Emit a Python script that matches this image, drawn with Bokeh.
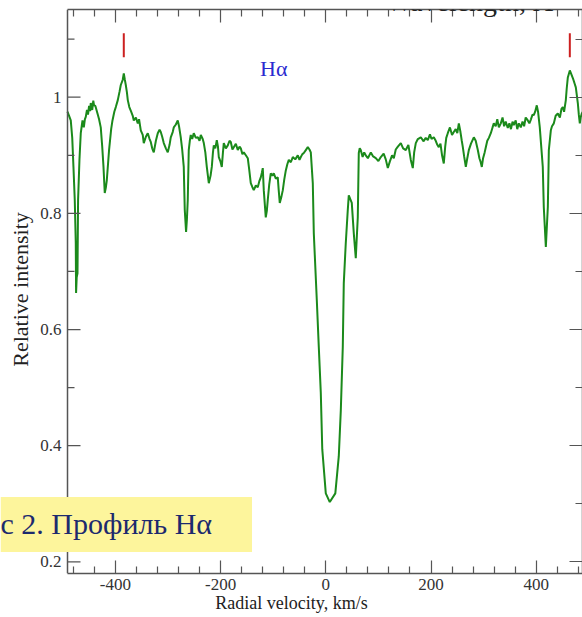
import math
from bokeh.plotting import figure
from bokeh.models import (LinearAxis, Label, Range1d, SingleIntervalTicker,
                          FixedTicker, CustomJSTickFormatter, Span)
from bokeh.core.properties import value
from bokeh.embed import file_html
from bokeh.resources import INLINE

# H-alpha profile: radial velocity (km/s) and relative intensity
velocity = [
    -491.1, -488.0, -484.8, -482.0, -479.7, -477.2, -475.3, -474.7, -473.5, -472.0,
    -470.9, -468.3, -465.8, -464.0, -462.5, -460.0, -458.0, -456.3, -454.0, -452.0,
    -450.0, -448.0, -446.8, -444.0, -442.0, -440.5, -438.0, -434.0, -431.0, -427.8,
    -425.0, -422.6, -420.2, -418.0, -416.3, -412.0, -408.0, -405.5, -402.0, -399.2,
    -395.4, -392.0, -389.7, -386.0, -384.0, -382.0, -380.2, -378.0, -376.4, -373.5,
    -370.0, -367.0, -365.0, -361.0, -357.4, -355.0, -351.7, -348.0, -346.0, -342.0,
    -338.4, -335.0, -332.7, -330.0, -327.0, -323.0, -319.4, -316.0, -313.7, -311.0,
    -308.0, -304.0, -300.4, -297.0, -294.7, -291.0, -289.0, -285.0, -281.4, -279.0,
    -275.7, -273.0, -270.0, -268.1, -265.6, -264.0, -262.4, -260.5, -258.5, -256.7,
    -254.0, -251.0, -247.0, -243.3, -240.0, -237.6, -234.0, -231.9, -229.0, -226.2,
    -222.4, -219.0, -216.7, -214.5, -212.9, -210.0, -207.2, -205.0, -203.4, -200.5,
    -197.7, -195.5, -193.9, -190.0, -186.3, -183.0, -180.6, -177.5, -174.9, -171.0,
    -167.3, -164.0, -161.6, -158.5, -155.9, -152.0, -148.3, -145.5, -142.6, -139.5,
    -136.9, -133.0, -129.3, -126.5, -123.6, -121.5, -119.8, -117.9, -114.1, -112.0,
    -110.3, -107.5, -104.6, -101.5, -98.9, -95.0, -91.3, -89.5, -87.5, -84.5,
    -81.7, -79.0, -76.0, -73.0, -70.3, -66.5, -62.7, -58.0, -53.2, -50.0,
    -47.5, -44.5, -41.8, -38.0, -34.2, -31.0, -28.5, -24.7, -22.8, -17.1,
    -13.3, -9.5, -6.7, 0.0, 7.6, 18.1, 24.7, 28.5, 32.3, 34.2,
    38.0, 41.8, 43.7, 49.4, 53.2, 57.0, 60.8, 62.7, 64.5, 66.5,
    70.0, 73.0, 76.0, 80.0, 85.6, 90.0, 95.1, 100.0, 104.6, 110.0,
    114.0, 117.9, 122.0, 126.0, 129.3, 133.0, 137.0, 142.6, 147.0, 152.1,
    157.0, 161.6, 165.4, 168.0, 171.1, 175.0, 180.6, 186.0, 190.0, 193.9,
    198.0, 201.0, 205.3, 209.0, 212.0, 214.8, 218.0, 221.0, 224.3, 227.0,
    229.0, 231.9, 236.0, 240.0, 243.3, 247.0, 250.0, 252.9, 256.0, 258.5,
    260.5, 263.0, 266.2, 269.0, 271.9, 276.0, 281.4, 285.0, 289.0, 292.0,
    294.5, 296.6, 299.0, 302.0, 304.2, 307.0, 310.0, 313.7, 317.0, 319.4,
    323.0, 326.0, 329.0, 332.7, 336.0, 339.0, 342.0, 346.0, 349.0, 352.0,
    355.0, 357.4, 361.0, 364.0, 367.0, 370.7, 374.0, 377.0, 380.0, 384.0,
    387.0, 390.0, 393.0, 395.4, 398.0, 401.1, 403.5, 406.8, 412.5, 414.4,
    418.3, 422.1, 424.0, 427.8, 430.0, 433.5, 437.0, 441.1, 445.0, 448.0,
    450.6, 453.0, 456.3, 458.0, 460.1, 463.9, 466.5, 469.6, 472.5, 475.3,
    477.0, 479.1, 481.0, 482.9, 484.5, 486.7, 490.5,
]
intensity = [
    0.975, 0.968, 0.960, 0.930, 0.880, 0.823, 0.749, 0.663, 0.690, 0.697,
    0.823, 0.892, 0.938, 0.950, 0.960, 0.948, 0.962, 0.966, 0.978, 0.970,
    0.985, 0.976, 0.990, 0.978, 0.994, 0.986, 0.985, 0.972, 0.962, 0.948,
    0.915, 0.880, 0.835, 0.845, 0.857, 0.909, 0.945, 0.960, 0.975, 0.983,
    0.995, 1.010, 1.021, 1.030, 1.041, 1.030, 1.021, 1.008, 0.995, 0.983,
    0.975, 0.968, 0.960, 0.965, 0.955, 0.962, 0.943, 0.935, 0.921, 0.932,
    0.938, 0.928, 0.923, 0.912, 0.905, 0.925, 0.938, 0.944, 0.940, 0.932,
    0.921, 0.912, 0.905, 0.918, 0.931, 0.940, 0.948, 0.953, 0.960, 0.950,
    0.931, 0.910, 0.880, 0.806, 0.768, 0.790, 0.823, 0.909, 0.925, 0.935,
    0.928, 0.938, 0.930, 0.931, 0.925, 0.935, 0.928, 0.921, 0.905, 0.880,
    0.852, 0.865, 0.880, 0.905, 0.917, 0.912, 0.926, 0.915, 0.897, 0.890,
    0.880, 0.905, 0.921, 0.912, 0.917, 0.925, 0.923, 0.910, 0.914, 0.920,
    0.909, 0.915, 0.912, 0.902, 0.905, 0.900, 0.895, 0.875, 0.852, 0.845,
    0.840, 0.848, 0.845, 0.855, 0.862, 0.870, 0.878, 0.840, 0.793, 0.805,
    0.823, 0.850, 0.869, 0.865, 0.869, 0.860, 0.862, 0.840, 0.818, 0.828,
    0.840, 0.858, 0.874, 0.885, 0.892, 0.888, 0.897, 0.893, 0.900, 0.892,
    0.897, 0.902, 0.904, 0.909, 0.914, 0.910, 0.905, 0.852, 0.766, 0.651,
    0.570, 0.491, 0.394, 0.318, 0.303, 0.318, 0.382, 0.460, 0.570, 0.680,
    0.749, 0.806, 0.831, 0.818, 0.766, 0.723, 0.793, 0.904, 0.912, 0.909,
    0.897, 0.905, 0.900, 0.895, 0.905, 0.898, 0.895, 0.890, 0.897, 0.903,
    0.893, 0.878, 0.890, 0.900, 0.895, 0.910, 0.915, 0.921, 0.912, 0.909,
    0.918, 0.892, 0.878, 0.905, 0.921, 0.928, 0.931, 0.924, 0.930, 0.926,
    0.936, 0.928, 0.931, 0.925, 0.918, 0.914, 0.920, 0.900, 0.886, 0.915,
    0.930, 0.938, 0.948, 0.935, 0.940, 0.945, 0.938, 0.955, 0.940, 0.925,
    0.914, 0.898, 0.880, 0.895, 0.909, 0.920, 0.931, 0.925, 0.909, 0.895,
    0.888, 0.880, 0.895, 0.905, 0.914, 0.925, 0.930, 0.938, 0.948, 0.955,
    0.950, 0.962, 0.948, 0.955, 0.965, 0.950, 0.958, 0.947, 0.955, 0.945,
    0.958, 0.952, 0.960, 0.945, 0.955, 0.948, 0.958, 0.950, 0.965, 0.960,
    0.955, 0.962, 0.970, 0.969, 0.975, 0.986, 0.975, 0.948, 0.880, 0.811,
    0.742, 0.811, 0.909, 0.943, 0.950, 0.955, 0.968, 0.972, 0.965, 0.980,
    0.983, 0.975, 0.995, 1.015, 1.034, 1.046, 1.040, 1.033, 1.025, 1.017,
    1.005, 0.990, 0.970, 0.955, 0.965, 0.972, 0.978,
]

# emission peaks flagged with short red bars
marker_velocity = [-384.0, 463.9]
marker_bottom = [1.069, 1.069]
marker_top = [1.110, 1.110]

# axis ticks
x_major_ticks = [-400, -200, 0, 200, 400]
x_minor_ticks = [-480, -440, -360, -320, -280, -240, -160, -120, -80, -40,
                 40, 80, 120, 160, 240, 280, 320, 360, 440, 480]
y_major_ticks = [0.2, 0.4, 0.6, 0.8, 1.0]
y_major_labels = ["0.2", "0.4", "0.6", "0.8", "1"]
y_minor_ticks = [0.3, 0.5, 0.7, 0.9, 1.1]

# data window of the framed panel
v_left, v_right = -491.0, 488.0
i_bottom, i_top = 0.180, 1.151
px_per_kms = 0.526          # horizontal scale of the panel
gutter_px = 67              # room left of the panel for the intensity scale

SERIF = "Liberation Serif"
AXIS_GRAY = "#555555"
TEXT_GRAY = "#333333"

# The plotting frame spans the full width; the intensity scale is drawn
# inside the gutter so the caption box can overlap it.
p = figure(width=582, height=617,
           x_range=Range1d(v_left - gutter_px / px_per_kms, v_right),
           y_range=Range1d(i_bottom, i_top),
           y_axis_location=None,
           output_backend="svg", toolbar_location=None,
           min_border_left=0, min_border_right=0,
           min_border_top=9, min_border_bottom=44)
p.grid.visible = False
p.outline_line_color = None
p.background_fill_color = "white"
p.border_fill_color = "white"

p.line(velocity, intensity, line_color="#1b8a1b", line_width=2)
p.segment(x0=marker_velocity, y0=marker_bottom, x1=marker_velocity, y1=marker_top,
          line_color="#cc2020", line_width=2)

# velocity axes (bottom with labels, top with ticks only)
xticker = FixedTicker(ticks=x_major_ticks, minor_ticks=x_minor_ticks)
bottom_axis = p.below[0]
bottom_axis.ticker = xticker
bottom_axis.formatter = CustomJSTickFormatter(code="return tick.toFixed(0);")
bottom_axis.bounds = (v_left, v_right)
bottom_axis.axis_label = "Radial velocity, km/s"

blank = CustomJSTickFormatter(code="return '';")
top_axis = LinearAxis(ticker=xticker, formatter=blank, bounds=(v_left, v_right))
p.add_layout(top_axis, "above")

yticker = SingleIntervalTicker(interval=0.2, num_minor_ticks=2)
right_axis = LinearAxis(ticker=yticker, formatter=blank)
p.add_layout(right_axis, "right")

for ax in [bottom_axis, top_axis, right_axis]:
    ax.axis_line_color = AXIS_GRAY
    ax.axis_line_width = 1.5
    ax.major_tick_line_color = AXIS_GRAY
    ax.minor_tick_line_color = AXIS_GRAY
    ax.major_tick_line_width = 1.2
    ax.minor_tick_line_width = 1.2
    ax.major_tick_in = 13
    ax.major_tick_out = 0
    ax.minor_tick_in = 7
    ax.minor_tick_out = 0
    ax.major_label_text_font = SERIF
    ax.major_label_text_font_size = "17px"
    ax.major_label_text_color = TEXT_GRAY
    ax.axis_label_text_font = SERIF
    ax.axis_label_text_font_size = "18px"
    ax.axis_label_text_font_style = "normal"
    ax.axis_label_text_color = "#222222"

for ax in [top_axis, right_axis]:
    ax.major_label_text_font_size = "0px"
    ax.major_label_standoff = 0

bottom_axis.major_label_standoff = 5
bottom_axis.axis_label_standoff = 0

# intensity scale on the left edge of the panel
p.add_layout(Span(location=v_left, dimension="height",
                  line_color=AXIS_GRAY, line_width=1.5))
p.ray(x=[v_left] * len(y_major_ticks), y=y_major_ticks, length=13,
      length_units="screen", angle=0, line_color=AXIS_GRAY, line_width=1.2)
p.ray(x=[v_left] * len(y_minor_ticks), y=y_minor_ticks, length=7,
      length_units="screen", angle=0, line_color=AXIS_GRAY, line_width=1.2)
p.text(x=[v_left] * len(y_major_ticks), y=y_major_ticks, text=y_major_labels,
       x_offset=-6, text_align="right", text_baseline="middle",
       text_font=value(SERIF), text_font_size="17px", text_color=TEXT_GRAY)
p.add_layout(Label(x=20, y=289, x_units="canvas", y_units="canvas",
                   text="Relative intensity", angle=math.pi / 2,
                   text_font=SERIF, text_font_size="22px", text_color="#222222",
                   text_align="center", text_baseline="middle"))

p.add_layout(Label(x=-99, y=1.05, text="Hα", text_font=SERIF,
                   text_font_size="22px", text_color="#2a2ad0",
                   text_align="center", text_baseline="middle"))

p.add_layout(Label(x=469, y=1, x_units="canvas", y_units="canvas",
                   text="Wavelength, Å", text_font=SERIF,
                   text_font_size="28px", text_color="#222222",
                   text_align="center", text_baseline="alphabetic"))

p.add_layout(Label(x=0, y=524, x_units="canvas", y_units="canvas",
                   text="с 2. Профиль Hα", text_font=SERIF,
                   text_font_size="30px", text_color="#1c2a6e",
                   text_align="left", text_baseline="alphabetic",
                   background_fill_color="#fdf59c", level="overlay",
                   padding=dict(left=0, right=40, top=10, bottom=12)))

open("out.html", "w").write(file_html(p, INLINE))
